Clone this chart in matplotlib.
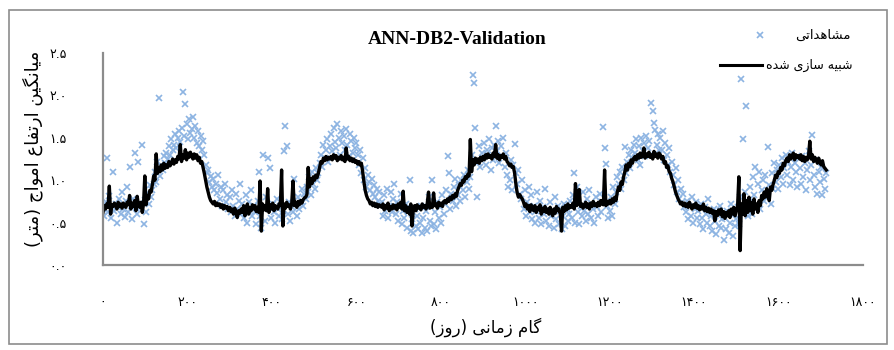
import matplotlib
matplotlib.use('Agg')
import matplotlib.pyplot as plt
from matplotlib.lines import Line2D
from matplotlib.patches import Rectangle
from matplotlib.ticker import FuncFormatter

# sampled every 3 days
days = list(range(0, 1714, 3))

simulated = [
    0.62, 0.70, 0.66, 0.72, 0.68, 0.93, 0.60, 0.71, 0.69, 0.73,
    0.70, 0.66, 0.74, 0.69, 0.72, 0.67, 0.73, 0.70, 0.68, 0.74,
    0.71, 0.82, 0.66, 0.73, 0.69, 0.76, 0.64, 0.81, 0.70, 0.68,
    0.74, 0.62, 0.72, 1.05, 0.71, 0.82, 0.78, 0.88, 0.86, 0.95,
    1.05, 1.00, 1.31, 1.08, 1.15, 1.10, 1.18, 1.12, 1.20, 1.14,
    1.18, 1.15, 1.22, 1.17, 1.20, 1.25, 1.19, 1.24, 1.21, 1.28,
    1.25, 1.42, 1.22, 1.30, 1.26, 1.36, 1.24, 1.32, 1.27, 1.33,
    1.29, 1.25, 1.31, 1.26, 1.30, 1.23, 1.27, 1.20, 1.22, 1.15,
    1.08, 1.00, 0.92, 0.86, 0.80, 0.76, 0.74, 0.72, 0.75, 0.70,
    0.73, 0.70, 0.72, 0.68, 0.71, 0.66, 0.70, 0.67, 0.69, 0.64,
    0.68, 0.63, 0.66, 0.60, 0.67, 0.62, 0.56, 0.64, 0.61, 0.66,
    0.62, 0.70, 0.58, 0.66, 0.72, 0.60, 0.68, 0.64, 0.71, 0.66,
    0.70, 0.63, 0.68, 0.62, 0.99, 0.40, 0.72, 0.65, 0.70, 0.64,
    0.90, 0.62, 0.71, 0.66, 0.73, 0.64, 0.70, 0.68, 0.66, 0.72,
    0.70, 1.12, 0.46, 0.72, 0.67, 0.74, 0.69, 0.71, 0.66, 0.73,
    0.99, 0.70, 0.74, 0.68, 0.75, 0.71, 0.76, 0.73, 0.77, 0.79,
    0.80, 0.83, 1.15, 0.92, 1.02, 0.96, 1.04, 1.00, 1.06, 1.03,
    1.08, 1.15, 1.22, 1.20, 1.26, 1.23, 1.28, 1.24, 1.27, 1.25,
    1.28, 1.24, 1.30, 1.26, 1.29, 1.23, 1.27, 1.25, 1.29, 1.24,
    1.27, 1.22, 1.38, 1.25, 1.28, 1.23, 1.26, 1.22, 1.25, 1.21,
    1.23, 1.19, 1.22, 1.18, 1.20, 1.10, 0.98, 0.88, 0.82, 0.78,
    0.76, 0.72, 0.74, 0.70, 0.73, 0.69, 0.72, 0.68, 0.71, 0.70,
    0.68, 0.72, 0.65, 0.70, 0.67, 0.73, 0.64, 0.69, 0.66, 0.71,
    0.67, 0.70, 0.65, 0.72, 0.68, 0.74, 0.66, 0.87, 0.64, 0.70,
    0.62, 0.68, 0.60, 0.72, 0.46, 0.66, 0.70, 0.64, 0.71, 0.67,
    0.69, 0.65, 0.72, 0.68, 0.70, 0.66, 0.73, 0.86, 0.67, 0.71,
    0.68, 0.85, 0.70, 0.72, 0.67, 0.74, 0.70, 0.73, 0.69, 0.75,
    0.76, 0.73, 0.78, 0.75, 0.80, 0.77, 0.82, 0.79, 0.84, 0.81,
    0.88, 0.92, 0.96, 0.94, 1.00, 0.98, 1.04, 1.02, 1.07, 1.05,
    1.48, 1.10, 1.24, 1.18, 1.26, 1.21, 1.25, 1.20, 1.27, 1.23,
    1.28, 1.24, 1.30, 1.26, 1.31, 1.27, 1.29, 1.25, 1.32, 1.28,
    1.42, 1.26, 1.30, 1.24, 1.29, 1.27, 1.31, 1.25, 1.28, 1.22,
    1.20, 1.17, 1.19, 1.15, 1.16, 1.08, 0.95, 0.85, 0.80, 0.83,
    0.80, 0.78, 0.74, 0.69, 0.72, 0.66, 0.70, 0.63, 0.71, 0.67,
    0.64, 0.70, 0.62, 0.68, 0.65, 0.71, 0.60, 0.67, 0.63, 0.69,
    0.62, 0.66, 0.60, 0.68, 0.63, 0.58, 0.66, 0.61, 0.69, 0.64,
    0.66, 0.60, 0.40, 0.68, 0.63, 0.70, 0.65, 0.72, 0.67, 0.70,
    0.68, 0.73, 0.66, 0.96, 0.70, 0.74, 0.89, 0.69, 0.72, 0.67,
    0.70, 0.74, 0.68, 0.72, 0.66, 0.73, 0.69, 0.75, 0.70, 0.72,
    0.69, 0.74, 0.70, 0.76, 0.72, 0.71, 1.12, 0.70, 0.75, 0.72,
    0.76, 0.72, 0.78, 0.74, 0.80, 0.76, 0.86, 0.92, 0.88, 0.98,
    0.95, 1.04, 1.10, 1.18, 1.12, 1.20, 1.16, 1.24, 1.20, 1.26,
    1.28, 1.24, 1.30, 1.26, 1.32, 1.27, 1.29, 1.38, 1.26, 1.31,
    1.28, 1.33, 1.27, 1.30, 1.25, 1.34, 1.28, 1.31, 1.26, 1.32,
    1.30, 1.25, 1.28, 1.20, 1.22, 1.15, 1.17, 1.10, 1.08, 1.02,
    0.98, 0.92, 0.86, 0.82, 0.78, 0.75, 0.72, 0.74, 0.70, 0.73,
    0.69, 0.72, 0.68, 0.74, 0.70, 0.66, 0.71, 0.68, 0.73, 0.67,
    0.70, 0.65, 0.69, 0.66, 0.72, 0.64, 0.68, 0.63, 0.67, 0.62,
    0.66, 0.61, 0.64, 0.52, 0.63, 0.58, 0.65, 0.60, 0.66, 0.57,
    0.63, 0.55, 0.62, 0.58, 0.64, 0.56, 0.66, 0.60, 0.68, 0.58,
    0.64, 0.70, 1.04, 0.17, 0.72, 0.60, 0.84, 0.58, 0.76, 0.62,
    0.80, 0.64, 0.74, 0.60, 0.78, 0.66, 0.72, 0.62, 0.76, 0.70,
    0.82, 0.78, 0.86, 0.80, 0.90, 0.84, 0.76, 0.92, 0.88, 0.95,
    1.00, 1.06, 1.03, 1.10, 1.08, 1.15, 1.12, 1.20, 1.17, 1.23,
    1.26, 1.22, 1.30, 1.25, 1.28, 1.32, 1.24, 1.30, 1.27, 1.29,
    1.25, 1.30, 1.23, 1.28, 1.22, 1.27, 1.24, 1.29, 1.46, 1.25,
    1.30, 1.22, 1.27, 1.24, 1.20, 1.26, 1.21, 1.18, 1.23, 1.16,
    1.14, 1.12,
]

observed = [
    0.66, 0.58, 0.74, 1.26, 0.62, 0.81, 0.55, 0.70, 1.10, 0.64,
    0.72, 0.50, 0.68, 0.78, 0.60, 0.86, 0.66, 0.57, 0.75, 0.92,
    0.63, 1.15, 0.70, 0.54, 0.78, 1.32, 0.67, 0.60, 1.22, 0.73,
    0.68, 1.42, 0.48, 0.77, 0.62, 0.85, 0.72, 0.94, 0.80, 0.88,
    0.95, 1.10, 0.98, 1.22, 1.97, 1.05, 1.18, 1.12, 1.28, 1.20,
    1.32, 1.25, 1.40, 1.30, 1.48, 1.36, 1.42, 1.55, 1.38, 1.50,
    1.58, 1.45, 1.62, 2.04, 1.52, 1.90, 1.66, 1.48, 1.72, 1.56,
    1.60, 1.75, 1.50, 1.64, 1.44, 1.58, 1.40, 1.52, 1.36, 1.46,
    1.30, 1.18, 1.08, 1.12, 0.98, 1.05, 0.92, 1.02, 0.88, 0.96,
    0.85, 1.06, 0.78, 0.92, 0.70, 0.88, 0.96, 0.74, 0.82, 0.66,
    0.80, 0.62, 0.88, 0.70, 0.58, 0.84, 0.66, 0.76, 0.95, 0.60,
    0.72, 0.55, 0.68, 0.82, 0.50, 0.74, 0.64, 0.88, 0.58, 0.70,
    0.62, 0.48, 0.76, 1.10, 0.58, 0.44, 1.30, 0.66, 0.52, 0.80,
    1.26, 0.68, 1.14, 0.56, 0.72, 0.62, 0.50, 0.78, 0.66, 0.58,
    0.70, 0.54, 0.64, 1.34, 1.64, 1.40, 0.60, 0.74, 0.52, 0.68,
    0.62, 1.02, 0.72, 0.58, 0.80, 0.66, 0.76, 0.90, 0.70, 0.84,
    0.78, 0.92, 0.86, 1.04, 0.82, 1.10, 0.96, 0.90, 1.14, 1.00,
    1.08, 1.20, 1.30, 1.16, 1.42, 1.26, 1.36, 1.48, 1.22, 1.40,
    1.55, 1.34, 1.62, 1.45, 1.38, 1.66, 1.50, 1.30, 1.58, 1.44,
    1.52, 1.36, 1.60, 1.42, 1.28, 1.54, 1.46, 1.32, 1.50, 1.38,
    1.44, 1.30, 1.18, 1.36, 1.08, 1.26, 1.00, 1.14, 0.92, 1.06,
    0.98, 0.88, 1.02, 0.84, 0.94, 0.80, 0.90, 0.76, 0.86, 0.72,
    0.74, 0.58, 0.82, 0.64, 0.90, 0.55, 0.70, 0.86, 0.62, 0.78,
    0.96, 0.60, 0.74, 0.52, 0.68, 0.84, 0.48, 0.64, 0.56, 0.72,
    0.44, 0.62, 1.00, 0.40, 0.54, 0.38, 0.66, 0.46, 0.58, 0.42,
    0.50, 0.70, 0.38, 0.56, 0.44, 0.64, 0.40, 0.80, 0.52, 0.46,
    1.00, 0.48, 0.62, 0.42, 0.74, 0.56, 0.68, 0.50, 0.82, 0.60,
    0.72, 0.88, 1.28, 1.08, 0.66, 0.84, 0.76, 0.92, 1.02, 0.70,
    0.82, 0.94, 0.76, 1.00, 0.88, 1.06, 0.80, 0.98, 1.12, 0.90,
    1.04, 1.30, 2.24, 2.15, 1.62, 0.80, 1.22, 1.40, 1.16, 1.32,
    1.26, 1.44, 1.18, 1.36, 1.30, 1.48, 1.12, 1.38, 1.24, 1.42,
    1.64, 1.34, 1.46, 1.20, 1.40, 1.28, 1.50, 1.16, 1.32, 1.06,
    0.92, 1.00, 1.24, 0.88, 1.18, 1.43, 1.08, 0.96, 1.12, 0.84,
    0.78, 1.00, 0.66, 0.88, 0.58, 0.74, 0.92, 0.62, 0.82, 0.54,
    0.70, 0.50, 0.64, 0.86, 0.56, 0.76, 0.48, 0.68, 0.60, 0.90,
    0.52, 0.66, 0.46, 0.74, 0.58, 0.62, 0.44, 0.80, 0.54, 0.70,
    0.48, 0.64, 0.42, 0.58, 0.72, 0.46, 0.66, 0.52, 0.60, 0.76,
    0.56, 0.82, 1.08, 0.50, 0.92, 0.62, 0.48, 0.70, 0.58, 0.86,
    0.64, 0.52, 0.78, 0.60, 0.88, 0.56, 0.72, 0.66, 0.50, 0.80,
    0.68, 0.58, 0.84, 0.62, 0.74, 1.63, 1.38, 1.19, 0.70, 0.56,
    0.64, 0.80, 0.58, 0.92, 0.72, 0.86, 1.04, 0.96, 1.10, 0.90,
    1.16, 1.00, 1.39, 1.08, 1.22, 1.30, 1.14, 1.36, 1.26, 1.42,
    1.32, 1.48, 1.24, 1.40, 1.18, 1.50, 1.34, 1.44, 1.28, 1.52,
    1.38, 1.46, 1.30, 1.91, 1.82, 1.67, 1.59, 1.42, 1.54, 1.36,
    1.50, 1.36, 1.58, 1.24, 1.44, 1.30, 1.18, 1.38, 1.10, 1.22,
    1.06, 0.94, 1.14, 0.86, 1.00, 0.78, 0.90, 0.74, 0.84, 0.68,
    0.62, 0.76, 0.54, 0.70, 0.58, 0.80, 0.50, 0.66, 0.74, 0.56,
    0.64, 0.48, 0.72, 0.56, 0.42, 0.68, 0.60, 0.50, 0.78, 0.46,
    0.58, 0.40, 0.66, 0.52, 0.36, 0.62, 0.46, 0.70, 0.44, 0.54,
    0.30, 0.56, 0.42, 0.64, 0.38, 0.50, 0.72, 0.34, 0.60, 0.46,
    0.54, 0.68, 0.48, 0.80, 2.19, 1.49, 0.62, 0.86, 1.87, 0.58,
    0.74, 0.92, 0.60, 1.04, 0.82, 1.16, 0.70, 0.96, 1.10, 0.66,
    0.88, 1.00, 0.76, 1.06, 0.84, 1.39, 0.94, 0.72, 1.08, 0.90,
    1.20, 0.98, 1.12, 0.90, 1.18, 1.04, 1.26, 0.96, 1.14, 1.30,
    1.06, 1.22, 0.94, 1.16, 1.32, 1.00, 1.20, 1.10, 0.92, 1.26,
    1.14, 0.96, 1.28, 1.04, 1.20, 0.88, 1.12, 1.34, 1.00, 1.18,
    1.53, 1.06, 0.92, 1.24, 0.84, 1.10, 0.98, 1.16, 0.82, 1.02,
    0.90, 1.08,
]

x_ticks = [0, 200, 400, 600, 800, 1000, 1200, 1400, 1600, 1800]
y_ticks = [0.0, 0.5, 1.0, 1.5, 2.0, 2.5]

title = 'ANN-DB2-Validation'
label_obs = 'مشاهداتی'
label_sim = 'شبیه سازی شده'
x_title = 'گام زمانی (روز)'
y_title = 'میانگین ارتفاع امواج (متر)'

# (isolated, final, initial, medial) presentation forms
FORMS = {
    'ا': ('\uFE8D', '\uFE8E', None, None),
    'ب': ('\uFE8F', '\uFE90', '\uFE91', '\uFE92'),
    'ت': ('\uFE95', '\uFE96', '\uFE97', '\uFE98'),
    'ج': ('\uFE9D', '\uFE9E', '\uFE9F', '\uFEA0'),
    'د': ('\uFEA9', '\uFEAA', None, None),
    'ر': ('\uFEAD', '\uFEAE', None, None),
    'ز': ('\uFEAF', '\uFEB0', None, None),
    'س': ('\uFEB1', '\uFEB2', '\uFEB3', '\uFEB4'),
    'ش': ('\uFEB5', '\uFEB6', '\uFEB7', '\uFEB8'),
    'ع': ('\uFEC9', '\uFECA', '\uFECB', '\uFECC'),
    'ف': ('\uFED1', '\uFED2', '\uFED3', '\uFED4'),
    'م': ('\uFEE1', '\uFEE2', '\uFEE3', '\uFEE4'),
    'ن': ('\uFEE5', '\uFEE6', '\uFEE7', '\uFEE8'),
    'ه': ('\uFEE9', '\uFEEA', '\uFEEB', '\uFEEC'),
    'و': ('\uFEED', '\uFEEE', None, None),
    'ی': ('\uFBFC', '\uFBFD', '\uFBFE', '\uFBFF'),
    'گ': ('\uFB92', '\uFB93', '\uFB94', '\uFB95'),
}


def rtl(text):
    # join letters and flip to visual order, matplotlib does no shaping
    out = []
    for i, ch in enumerate(text):
        if ch not in FORMS:
            out.append(ch)
            continue
        prev = text[i - 1] if i > 0 else ''
        nxt = text[i + 1] if i < len(text) - 1 else ''
        jp = prev in FORMS and FORMS[prev][2] is not None
        jn = FORMS[ch][2] is not None and nxt in FORMS
        iso, fin, ini, med = FORMS[ch]
        if jp and jn:
            out.append(med)
        elif jp:
            out.append(fin)
        elif jn:
            out.append(ini)
        else:
            out.append(iso)
    return ''.join(out)[::-1].translate(str.maketrans('()', ')('))


def fa_digits(s):
    return s.translate(str.maketrans('0123456789', '۰۱۲۳۴۵۶۷۸۹'))


W, H = 894, 350
fig = plt.figure(figsize=(W / 100, H / 100), dpi=100)
fig.patch.set_facecolor('white')

# chart border
fig.add_artist(Rectangle((9 / W, 1 - 344 / H), 878 / W, 334 / H, transform=fig.transFigure,
                         fill=False, edgecolor='#8c8c8c', linewidth=1.2))

ax = fig.add_axes([103 / W, 1 - 265 / H, 760 / W, 212 / H])
obs_color = '#8db4e2'
ax.plot(days, observed, linestyle='none', marker='x', markersize=4.5, markeredgewidth=1.2, color=obs_color)
ax.plot(days, simulated, color='black', linewidth=2.4)

ax.set_xlim(0, 1800)
ax.set_ylim(0, 2.5)
ax.set_xticks(x_ticks)
ax.set_yticks(y_ticks)
ax.xaxis.set_major_formatter(FuncFormatter(lambda v, p: fa_digits('%d' % v)))
ax.yaxis.set_major_formatter(FuncFormatter(lambda v, p: fa_digits('%.1f' % v)))
ax.tick_params(axis='x', length=0, pad=22, labelsize=9)
ax.tick_params(axis='y', length=0, pad=26, labelsize=9)
for spine in ['top', 'right']:
    ax.spines[spine].set_visible(False)
for spine in ['left', 'bottom']:
    ax.spines[spine].set_color('#8c8c8c')
    ax.spines[spine].set_linewidth(1.6)

fig.text(457 / W, 1 - 40 / H, title, ha='center', va='center',
         fontfamily='Liberation Serif', fontweight='bold', fontsize=14)
fig.text(486 / W, 1 - 327 / H, rtl(x_title), ha='center', va='center', fontsize=12)
fig.text(33 / W, 1 - 149 / H, rtl(y_title), ha='center', va='center', rotation=90, fontsize=13)

# legend, drawn by hand to sit where the original one is
fig.add_artist(Line2D([760 / W], [1 - 35 / H], marker='x', markersize=4.5, markeredgewidth=1.2,
                      color=obs_color, transform=fig.transFigure))
fig.text(851 / W, 1 - 35 / H, rtl(label_obs), ha='right', va='center', fontsize=9.5)
fig.add_artist(Line2D([720 / W, 762 / W], [1 - 65 / H, 1 - 65 / H], color='black', linewidth=2.2,
                      transform=fig.transFigure))
fig.text(853 / W, 1 - 65 / H, rtl(label_sim), ha='right', va='center', fontsize=9)

fig.savefig('out.png', dpi=100)
